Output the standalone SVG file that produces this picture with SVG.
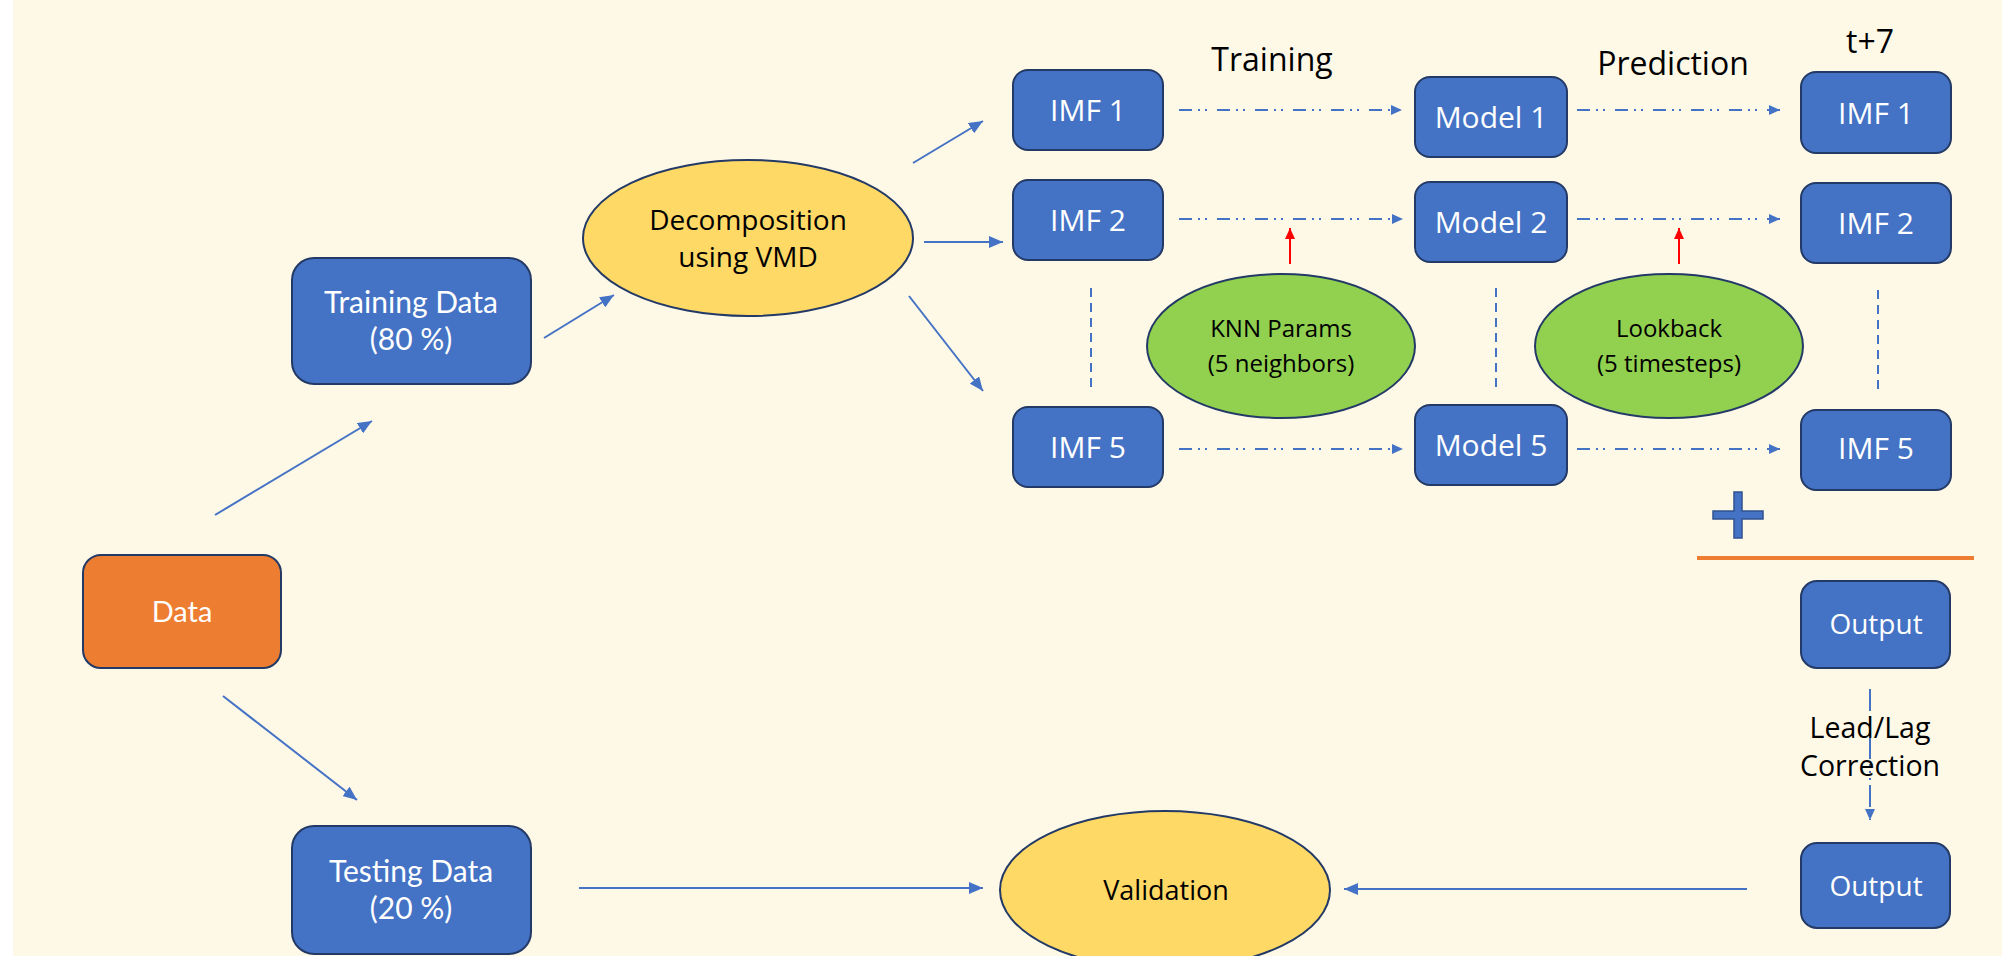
<svg xmlns="http://www.w3.org/2000/svg" width="2002" height="956" viewBox="0 0 2002 956">
<defs>
<style>
.box{fill:#4472C4;stroke:#233A66;stroke-width:2}
.org{fill:#ED7D31;stroke:#233A66;stroke-width:2}
.yel{fill:#FFD966;stroke:#233A66;stroke-width:2}
.grn{fill:#92D050;stroke:#233A66;stroke-width:2}
.cal{font-family:Lato,"Liberation Sans",sans-serif}
.seg{font-family:"Open Sans","Liberation Sans",sans-serif}
.w{fill:#FFFFFF}
.k{fill:#000000}
.ln{stroke:#4472C4;stroke-width:2;fill:none}
.dd{stroke:#4472C4;stroke-width:2;fill:none;stroke-dasharray:13 6 2 5 2 10}
.vd{stroke:#4472C4;stroke-width:2;fill:none;stroke-dasharray:9 6}
.ll{stroke:#4472C4;stroke-width:2;fill:none;stroke-dasharray:22 5 2 5 2 5 2 5}
.red{stroke:#FF0000;stroke-width:2;fill:none}
</style>
<marker id="ah" markerUnits="userSpaceOnUse" markerWidth="14" markerHeight="12" refX="14" refY="6" orient="auto"><path d="M0,0 L14,6 L0,12 z" fill="#4472C4"/></marker>
<marker id="ahs" markerUnits="userSpaceOnUse" markerWidth="11" markerHeight="10" refX="11" refY="5" orient="auto"><path d="M0,0 L11,5 L0,10 z" fill="#4472C4"/></marker>
<marker id="ahr" markerUnits="userSpaceOnUse" markerWidth="11" markerHeight="10" refX="11" refY="5" orient="auto"><path d="M0,0 L11,5 L0,10 z" fill="#FF0000"/></marker>
</defs>
<rect x="0" y="0" width="2002" height="956" fill="#FFFFFF"/>
<rect x="13" y="0" width="1989" height="956" fill="#FEF8E7"/>

<g id="connectors">
<line class="ln" x1="215" y1="515" x2="372" y2="421" marker-end="url(#ah)"/>
<line class="ln" x1="223" y1="696" x2="357" y2="800" marker-end="url(#ah)"/>
<line class="ln" x1="544" y1="338" x2="614" y2="295" marker-end="url(#ah)"/>
<line class="ln" x1="913" y1="163" x2="983" y2="121" marker-end="url(#ah)"/>
<line class="ln" x1="924" y1="242" x2="1003" y2="242" marker-end="url(#ah)"/>
<line class="ln" x1="909" y1="296" x2="983" y2="391" marker-end="url(#ah)"/>
<line class="dd" x1="1179" y1="110" x2="1402" y2="110" marker-end="url(#ahs)"/>
<line class="dd" x1="1179" y1="219" x2="1403" y2="219" marker-end="url(#ahs)"/>
<line class="dd" x1="1179" y1="449" x2="1403" y2="449" marker-end="url(#ahs)"/>
<line class="dd" x1="1577" y1="110" x2="1780" y2="110" marker-end="url(#ahs)"/>
<line class="dd" x1="1577" y1="219" x2="1780" y2="219" marker-end="url(#ahs)"/>
<line class="dd" x1="1577" y1="449" x2="1780" y2="449" marker-end="url(#ahs)"/>
<line class="red" x1="1290" y1="264" x2="1290" y2="228" marker-end="url(#ahr)"/>
<line class="red" x1="1679" y1="264" x2="1679" y2="228" marker-end="url(#ahr)"/>
<line class="vd" x1="1091" y1="288" x2="1091" y2="390"/>
<line class="vd" x1="1496" y1="288" x2="1496" y2="390"/>
<line class="vd" x1="1878" y1="290" x2="1878" y2="392"/>
<line class="ll" x1="1870" y1="689" x2="1870" y2="820" marker-end="url(#ahs)"/>
<line class="ln" x1="579" y1="888" x2="983" y2="888" marker-end="url(#ah)"/>
<line class="ln" x1="1747" y1="889" x2="1344" y2="889" marker-end="url(#ah)"/>
</g>

<g id="data"><rect class="org" x="83" y="555" width="198" height="113" rx="18"/><text class="cal w" x="182" y="622" font-size="29" text-anchor="middle">Data</text></g>

<g id="training-data"><rect class="box" x="292" y="258" width="239" height="126" rx="22"/><text class="cal w" x="411" y="313" font-size="30" text-anchor="middle">Training Data</text><text class="cal w" x="411" y="350" font-size="30" text-anchor="middle">(80 %)</text></g>

<g id="testing-data"><rect class="box" x="292" y="826" width="239" height="128" rx="22"/><text class="cal w" x="411" y="882" font-size="30" text-anchor="middle">Testing Data</text><text class="cal w" x="411" y="919" font-size="30" text-anchor="middle">(20 %)</text></g>

<g id="decomposition"><ellipse class="yel" cx="748" cy="238" rx="165" ry="78"/><text class="seg k" x="748" y="230" font-size="28" text-anchor="middle">Decomposition</text><text class="seg k" x="748" y="267" font-size="28" text-anchor="middle">using VMD</text></g>

<g id="imf1-in"><rect class="box" x="1013" y="70" width="150" height="80" rx="15"/><text class="seg w" x="1088" y="121" font-size="30" text-anchor="middle">IMF 1</text></g>
<g id="imf2-in"><rect class="box" x="1013" y="180" width="150" height="80" rx="15"/><text class="seg w" x="1088" y="231" font-size="30" text-anchor="middle">IMF 2</text></g>
<g id="imf5-in"><rect class="box" x="1013" y="407" width="150" height="80" rx="15"/><text class="seg w" x="1088" y="458" font-size="30" text-anchor="middle">IMF 5</text></g>

<g id="model1"><rect class="box" x="1415" y="77" width="152" height="80" rx="15"/><text class="seg w" x="1491" y="128" font-size="30" text-anchor="middle">Model 1</text></g>
<g id="model2"><rect class="box" x="1415" y="182" width="152" height="80" rx="15"/><text class="seg w" x="1491" y="233" font-size="30" text-anchor="middle">Model 2</text></g>
<g id="model5"><rect class="box" x="1415" y="405" width="152" height="80" rx="15"/><text class="seg w" x="1491" y="456" font-size="30" text-anchor="middle">Model 5</text></g>

<g id="imf1-out"><rect class="box" x="1801" y="72" width="150" height="81" rx="15"/><text class="seg w" x="1876" y="124" font-size="30" text-anchor="middle">IMF 1</text></g>
<g id="imf2-out"><rect class="box" x="1801" y="183" width="150" height="80" rx="15"/><text class="seg w" x="1876" y="234" font-size="30" text-anchor="middle">IMF 2</text></g>
<g id="imf5-out"><rect class="box" x="1801" y="410" width="150" height="80" rx="15"/><text class="seg w" x="1876" y="459" font-size="30" text-anchor="middle">IMF 5</text></g>

<g id="knn"><ellipse class="grn" cx="1281" cy="346" rx="134" ry="72"/><text class="seg k" x="1281" y="337" font-size="24" text-anchor="middle">KNN Params</text><text class="seg k" x="1281" y="372" font-size="24" text-anchor="middle">(5 neighbors)</text></g>
<g id="lookback"><ellipse class="grn" cx="1669" cy="346" rx="134" ry="72"/><text class="seg k" x="1669" y="337" font-size="24" text-anchor="middle">Lookback</text><text class="seg k" x="1669" y="372" font-size="24" text-anchor="middle">(5 timesteps)</text></g>

<g id="labels">
<text class="seg k" x="1272" y="71" font-size="32" text-anchor="middle">Training</text>
<text class="seg k" x="1673" y="75" font-size="32" text-anchor="middle">Prediction</text>
<text class="seg k" x="1870" y="53" font-size="32" text-anchor="middle">t+7</text>
</g>

<g id="plus"><path d="M1734,492 h8 v19 h21 v8 h-21 v19 h-8 v-19 h-21 v-8 h21 z" fill="#4472C4" stroke="#2F528F" stroke-width="1.5"/></g>
<g id="sum-line"><line x1="1697" y1="558" x2="1974" y2="558" stroke="#ED7D31" stroke-width="4"/></g>

<g id="output1"><rect class="box" x="1801" y="581" width="149" height="87" rx="16"/><text class="seg w" x="1876" y="634" font-size="28" text-anchor="middle">Output</text></g>
<g id="leadlag"><text class="seg k" x="1870" y="738" font-size="28.5" text-anchor="middle">Lead/Lag</text><text class="seg k" x="1870" y="776" font-size="28.5" text-anchor="middle">Correction</text></g>
<g id="output2"><rect class="box" x="1801" y="843" width="149" height="85" rx="16"/><text class="seg w" x="1876" y="896" font-size="28" text-anchor="middle">Output</text></g>

<g id="validation"><ellipse class="yel" cx="1165" cy="890" rx="165" ry="79"/><text class="seg k" x="1166" y="900" font-size="27" text-anchor="middle">Validation</text></g>
</svg>
